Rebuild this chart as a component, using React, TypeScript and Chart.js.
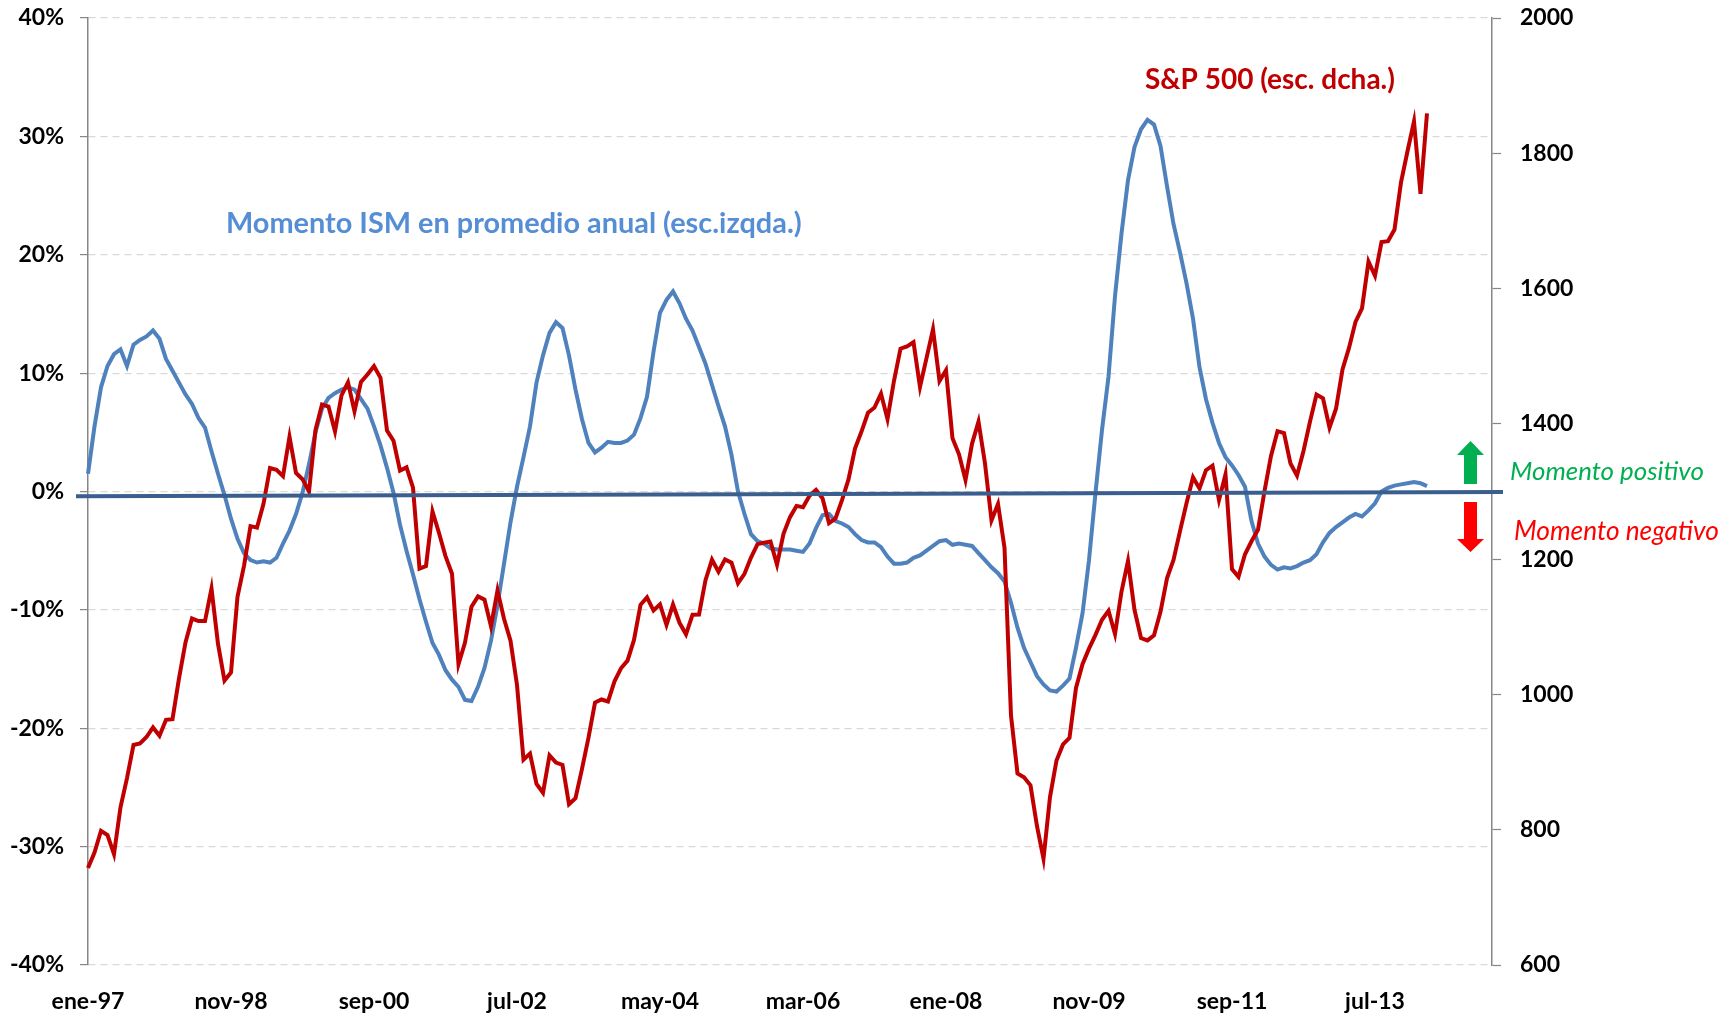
import { useEffect, useRef } from 'react';
import { Chart, registerables } from 'chart.js';

Chart.register(...registerables);

// ---------- DATA ----------
const MONTH_NAMES = ['ene', 'feb', 'mar', 'abr', 'may', 'jun', 'jul', 'ago', 'sep', 'oct', 'nov', 'dic'];
const FIRST_YEAR = 1997;
const N_CATEGORIES = 217; // ene-97 .. ene-15 (axis extends beyond the data)
const CATEGORIES: string[] = Array.from({ length: N_CATEGORIES }, (_, i) => {
  const y = FIRST_YEAR + Math.floor(i / 12);
  return `${MONTH_NAMES[i % 12]}-${String(y % 100).padStart(2, '0')}`;
});

const X_TICK_LABELS = ['ene-97', 'nov-98', 'sep-00', 'jul-02', 'may-04', 'mar-06', 'ene-08', 'nov-09', 'sep-11', 'jul-13'];

// S&P 500 (right scale)
const SP500 = [
  743.3,
  766.2, 798.4, 792.2, 763.9, 833.1, 876.3, 925.3, 927.7, 937.0, 951.2, 938.9, 962.4,
  963.4, 1023.7, 1076.8, 1112.2, 1108.4, 1108.4, 1156.6, 1074.6, 1020.6, 1032.5, 1144.4, 1190.1,
  1248.8, 1246.6, 1281.7, 1334.8, 1332.1, 1322.6, 1381.0, 1327.5, 1318.2, 1300.0, 1391.0, 1428.7,
  1425.6, 1388.9, 1442.2, 1461.4, 1418.5, 1462.0, 1473.0, 1485.5, 1468.1, 1390.1, 1375.0, 1330.9,
  1335.6, 1305.8, 1185.9, 1189.8, 1270.4, 1238.7, 1204.5, 1178.5, 1044.6, 1076.6, 1129.7, 1144.9,
  1140.2, 1100.7, 1153.8, 1111.9, 1079.3, 1014.0, 903.6, 912.6, 867.8, 854.6, 909.9, 899.2,
  895.8, 837.6, 846.6, 890.0, 936.0, 988.0, 992.5, 989.5, 1019.4, 1038.7, 1049.9, 1080.6,
  1132.5, 1143.4, 1124.0, 1133.1, 1102.8, 1132.8, 1105.9, 1088.9, 1117.7, 1118.1, 1168.9, 1199.2,
  1181.4, 1199.6, 1194.9, 1164.4, 1178.3, 1202.3, 1222.2, 1224.3, 1225.9, 1192.0, 1237.4, 1262.1,
  1278.7, 1276.7, 1293.7, 1302.2, 1290.0, 1253.1, 1260.2, 1287.2, 1317.8, 1363.4, 1388.6, 1416.4,
  1424.2, 1444.8, 1407.0, 1463.7, 1511.1, 1514.5, 1520.7, 1454.6, 1497.1, 1539.7, 1463.4, 1479.2,
  1378.8, 1354.9, 1316.9, 1370.5, 1403.2, 1341.3, 1257.3, 1281.5, 1217.0, 968.8, 883.0, 877.6,
  865.6, 805.2, 757.1, 848.2, 902.4, 926.1, 935.8, 1009.7, 1044.6, 1067.7, 1088.1, 1110.4,
  1123.6, 1089.2, 1152.1, 1197.3, 1125.1, 1083.4, 1079.8, 1087.3, 1122.1, 1171.6, 1198.9, 1241.5,
  1282.6, 1321.1, 1304.5, 1331.5, 1338.3, 1287.3, 1325.2, 1185.3, 1173.9, 1207.2, 1226.4, 1243.3,
  1300.6, 1352.5, 1389.2, 1386.4, 1341.3, 1323.5, 1359.8, 1403.4, 1443.4, 1437.8, 1394.5, 1422.3,
  1480.4, 1512.3, 1550.8, 1570.7, 1639.8, 1618.8, 1668.7, 1670.1, 1687.2, 1757.0, 1803.0, 1847.0,
  1740.0, 1859.0,
];

// Momento ISM en promedio anual, % (left scale)
const ISM_MOMENTUM = [
  1.5, 5.5, 8.8, 10.6, 11.6, 12.0, 10.6, 12.4, 12.8, 13.1, 13.6, 12.9,
  11.2, 10.2, 9.2, 8.2, 7.4, 6.2, 5.4, 3.4, 1.5, -0.3, -2.3, -4.0,
  -5.2, -5.8, -6.0, -5.9, -6.0, -5.6, -4.4, -3.3, -1.9, -0.1, 2.3, 5.0,
  7.0, 7.9, 8.3, 8.6, 8.8, 8.6, 7.8, 7.0, 5.5, 3.9, 2.0, -0.1,
  -2.8, -5.0, -7.0, -9.1, -11.0, -12.8, -13.8, -15.1, -15.9, -16.5, -17.6, -17.7,
  -16.5, -14.9, -12.6, -9.6, -6.1, -2.6, 0.4, 2.9, 5.5, 9.2, 11.5, 13.4,
  14.3, 13.8, 11.5, 8.6, 6.1, 4.1, 3.3, 3.7, 4.2, 4.1, 4.1, 4.3,
  4.8, 6.2, 8.0, 11.8, 15.1, 16.2, 16.9, 15.9, 14.6, 13.6, 12.2, 10.8,
  9.0, 7.2, 5.5, 3.1, 0.0, -1.9, -3.6, -4.2, -4.4, -4.8, -4.9, -4.9,
  -4.9, -5.0, -5.1, -4.4, -3.1, -2.0, -1.9, -2.5, -2.7, -3.0, -3.6, -4.1,
  -4.3, -4.3, -4.7, -5.5, -6.1, -6.1, -6.0, -5.6, -5.4, -5.0, -4.6, -4.2,
  -4.1, -4.5, -4.4, -4.5, -4.6, -5.2, -5.8, -6.4, -6.9, -7.6, -9.4, -11.5,
  -13.2, -14.4, -15.6, -16.3, -16.8, -16.9, -16.4, -15.8, -13.2, -10.3, -5.8, -0.1,
  5.2, 9.7, 16.5, 21.8, 26.3, 29.1, 30.6, 31.4, 31.0, 29.2, 25.8, 22.6,
  20.2, 17.6, 14.6, 10.5, 7.8, 5.8, 4.1, 2.9, 2.2, 1.4, 0.4, -2.5,
  -4.4, -5.5, -6.2, -6.6, -6.4, -6.5, -6.3, -6.0, -5.8, -5.3, -4.3, -3.5,
  -3.0, -2.6, -2.2, -1.9, -2.1, -1.6, -1.0, 0.0, 0.3, 0.5, 0.6, 0.7,
  0.8, 0.7, 0.45,
];

const LEFT_TICK_MIN = -40;
const LEFT_TICK_MAX = 40;
const LEFT_TICK_STEP = 10;
const RIGHT_TICK_MIN = 600;
const RIGHT_TICK_MAX = 2000;
const RIGHT_TICK_STEP = 200;

// Reference (zero) line, slightly tilted as in the original
const ZERO_LINE_FROM = -0.4;
const ZERO_LINE_TO = -0.05;

// ---------- STYLE ----------
const W = 1733;
const H = 1013;
const FONT = 'Lato, "Open Sans", sans-serif';
const RED = '#C00000';
const BLUE = '#4F81BD';
const ZERO_COLOR = '#3A5F8E';
const AXIS_GREY = '#868686';
const GRID_GREY = '#D9D9D9';

const TEXTS = [
  { text: 'Momento ISM en promedio anual (esc.izqda.)', x: 226, y: 224, width: 576, color: '#558ED5', style: 'bold' },
  { text: 'S&P 500 (esc. dcha.)', x: 1145, y: 80, width: 250, color: RED, style: 'bold' },
  { text: 'Momento positivo', x: 1510, y: 472, width: 194, color: '#00B050', style: 'italic' },
  { text: 'Momento negativo', x: 1514, y: 532, width: 205, color: '#FF0000', style: 'italic' },
];

const ARROWS = [
  { cx: 1470.5, tip: 441, headBase: 455, tail: 484, color: '#00B050' },
  { cx: 1470.5, tip: 552, headBase: 539, tail: 502, color: '#FF0000' },
];

const overlayPlugin = {
  id: 'overlay',
  afterDatasetsDraw(chart: any) {
    const { ctx, chartArea, scales } = chart;
    const y = scales.y;
    ctx.save();
    // zero line
    ctx.strokeStyle = ZERO_COLOR;
    ctx.lineWidth = 4;
    ctx.beginPath();
    ctx.moveTo(chartArea.left - 12, y.getPixelForValue(ZERO_LINE_FROM));
    ctx.lineTo(chartArea.right + 11, y.getPixelForValue(ZERO_LINE_TO));
    ctx.stroke();

    // texts
    ctx.textBaseline = 'middle';
    ctx.textAlign = 'left';
    for (const t of TEXTS) {
      ctx.font = `${t.style} 100px ${FONT}`;
      const m = ctx.measureText(t.text).width;
      const size = (100 * t.width) / m;
      ctx.font = `${t.style} ${size.toFixed(2)}px ${FONT}`;
      ctx.fillStyle = t.color;
      ctx.fillText(t.text, t.x, t.y);
    }

    // arrows
    for (const a of ARROWS) {
      const shaft = 6.5;
      const head = 13.5;
      ctx.fillStyle = a.color;
      ctx.beginPath();
      ctx.moveTo(a.cx, a.tip);
      ctx.lineTo(a.cx + head, a.headBase);
      ctx.lineTo(a.cx + shaft, a.headBase);
      ctx.lineTo(a.cx + shaft, a.tail);
      ctx.lineTo(a.cx - shaft, a.tail);
      ctx.lineTo(a.cx - shaft, a.headBase);
      ctx.lineTo(a.cx - head, a.headBase);
      ctx.closePath();
      ctx.fill();
    }
    ctx.restore();
  },
};

const fitY = (width: number) => (s: any) => {
  s.width = width;
  s.paddingTop = 0;
  s.paddingBottom = 0;
};

export default function App() {
  const ref = useRef<HTMLCanvasElement | null>(null);

  useEffect(() => {
    if (!ref.current) return;
    const tickFont = { family: FONT, size: 23, weight: 'bold' as const };
    const chart = new Chart(ref.current, {
      type: 'line',
      data: {
        labels: CATEGORIES,
        datasets: [
          {
            label: 'S&P 500 (esc. dcha.)',
            data: SP500,
            yAxisID: 'y1',
            borderColor: RED,
            backgroundColor: RED,
            borderWidth: 4,
            pointRadius: 0,
            tension: 0,
            fill: false,
          },
          {
            label: 'Momento ISM en promedio anual (esc.izqda.)',
            data: ISM_MOMENTUM,
            yAxisID: 'y',
            borderColor: BLUE,
            backgroundColor: BLUE,
            borderWidth: 4,
            pointRadius: 0,
            tension: 0,
            fill: false,
          },
        ],
      },
      options: {
        responsive: false,
        animation: false,
        devicePixelRatio: 1,
        layout: { padding: { top: 18, left: 0, right: 0, bottom: 0 } },
        plugins: { legend: { display: false }, tooltip: { enabled: false } },
        scales: {
          x: {
            type: 'category',
            offset: false,
            grid: { display: false, drawTicks: false },
            border: { display: false },
            ticks: {
              autoSkip: false,
              maxRotation: 0,
              minRotation: 0,
              padding: 23,
              color: '#000',
              font: tickFont,
              callback: (_v: any, i: number) => (X_TICK_LABELS.includes(CATEGORIES[i]) ? CATEGORIES[i] : ''),
            },
            afterFit: (s: any) => {
              s.height = 48;
              s.paddingLeft = 0;
              s.paddingRight = 0;
            },
          },
          y: {
            position: 'left',
            min: LEFT_TICK_MIN,
            max: LEFT_TICK_MAX,
            ticks: {
              stepSize: LEFT_TICK_STEP,
              padding: 16,
              color: '#000',
              font: tickFont,
              callback: (v: any) => `${v}%`,
            },
            grid: {
              color: GRID_GREY,
              lineWidth: 1.2,
              drawTicks: true,
              tickLength: 8,
              tickColor: AXIS_GREY,
              tickWidth: 1.2,
              tickBorderDash: [],
            },
            border: { display: true, color: AXIS_GREY, width: 1.5, dash: [7, 5] },
            afterFit: fitY(88),
          },
          y1: {
            position: 'right',
            min: RIGHT_TICK_MIN,
            max: RIGHT_TICK_MAX,
            ticks: {
              stepSize: RIGHT_TICK_STEP,
              padding: 19,
              color: '#000',
              font: tickFont,
              callback: (v: any) => String(v),
            },
            grid: {
              drawOnChartArea: false,
              drawTicks: true,
              tickLength: 9,
              tickColor: AXIS_GREY,
              tickWidth: 1.2,
            },
            border: { display: true, color: AXIS_GREY, width: 1.5 },
            afterFit: fitY(241),
          },
        },
      } as any,
      plugins: [overlayPlugin],
    });
    return () => chart.destroy();
  }, []);

  return (
    <div style={{ position: 'fixed', left: 0, top: 0, width: W, height: H, background: '#fff' }}>
      <canvas ref={ref} width={W} height={H} style={{ width: W, height: H, display: 'block' }} />
    </div>
  );
}
